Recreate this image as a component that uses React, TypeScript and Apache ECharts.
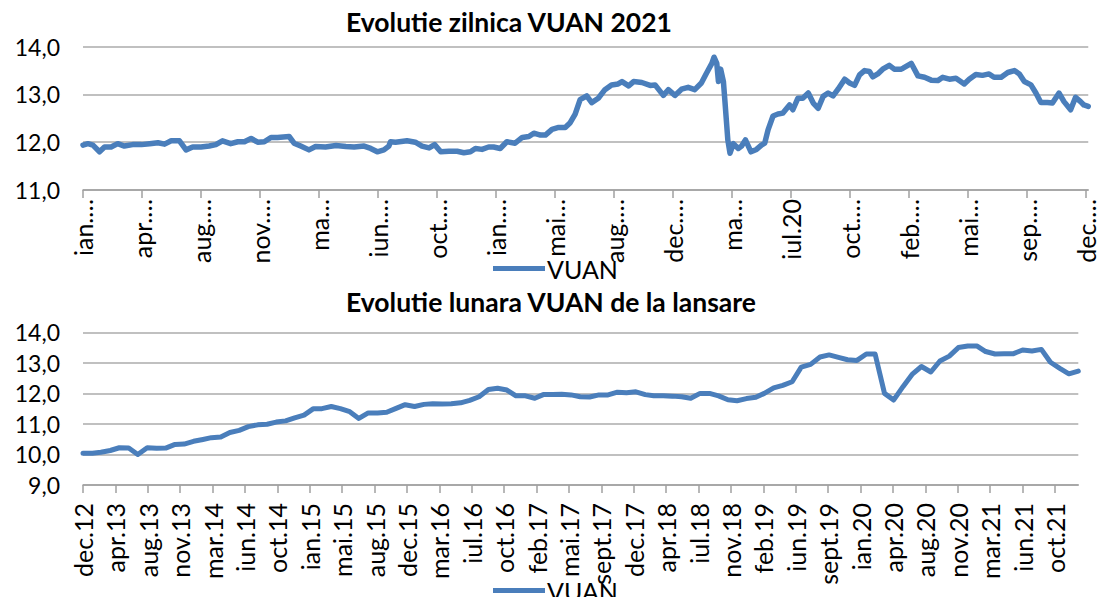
import React, { useEffect, useRef } from "react";
import * as echarts from "echarts";

// ---------- Daily chart (days since 2017-01-03) ----------
const dailyDays = [
  0, 9, 18, 30, 39, 51, 63, 75, 90, 106, 121, 136, 148, 160, 175, 187, 199, 214, 229, 241,
  253, 268, 281, 293, 305, 317, 329, 341, 353, 374, 383, 395, 410, 422, 440, 459, 477, 492, 510, 522,
  534, 546, 555, 558, 567, 588, 603, 615, 628, 638, 649, 664, 679, 691, 703, 712, 724, 736, 745, 757,
  769, 784, 797, 809, 818, 830, 839, 851, 863, 875, 884, 893, 902, 914, 923, 935, 947, 959, 971, 978,
  990, 999, 1014, 1029, 1038, 1053, 1062, 1074, 1086, 1098, 1110, 1122, 1131, 1141, 1145, 1150, 1153, 1157, 1162, 1165,
  1170, 1174, 1180, 1189, 1195, 1202, 1212, 1222, 1231, 1237, 1243, 1252, 1261, 1270, 1282, 1288, 1297, 1306, 1316, 1325,
  1334, 1343, 1352, 1361, 1370, 1382, 1391, 1400, 1409, 1418, 1427, 1433, 1442, 1451, 1463, 1472, 1484, 1488, 1503, 1515,
  1527, 1539, 1551, 1560, 1572, 1584, 1599, 1608, 1620, 1632, 1644, 1653, 1666, 1678, 1690, 1699, 1708, 1720, 1729, 1738,
  1750, 1759, 1771, 1780, 1792, 1801, 1810, 1816, 1824,
];
const dailyValues = [
  11.94, 11.97, 11.94, 11.8, 11.9, 11.9, 11.97, 11.92, 11.95, 11.95, 11.97, 11.99, 11.96, 12.03, 12.03, 11.84, 11.9, 11.9, 11.92, 11.95,
  12.03, 11.97, 12.01, 12.01, 12.08, 12.0, 12.01, 12.1, 12.1, 12.12, 11.98, 11.92, 11.84, 11.91, 11.9, 11.93, 11.91, 11.9, 11.92, 11.87,
  11.8, 11.84, 11.92, 12.01, 12.0, 12.03, 12.0, 11.92, 11.88, 11.95, 11.8, 11.81, 11.81, 11.78, 11.8, 11.87, 11.85, 11.9, 11.9, 11.87,
  12.01, 11.98, 12.1, 12.12, 12.19, 12.15, 12.15, 12.27, 12.31, 12.31, 12.41, 12.59, 12.89, 12.97, 12.83, 12.92, 13.1, 13.2, 13.22, 13.27,
  13.18, 13.27, 13.25, 13.19, 13.2, 12.98, 13.1, 12.98, 13.11, 13.15, 13.1, 13.24, 13.44, 13.65, 13.78, 13.65, 13.27, 13.53, 13.27, 12.82,
  12.05, 11.77, 11.97, 11.87, 11.92, 12.05, 11.8, 11.85, 11.94, 11.98, 12.26, 12.55, 12.59, 12.61, 12.78, 12.68, 12.92, 12.92, 13.03, 12.82,
  12.71, 12.96, 13.03, 12.97, 13.11, 13.32, 13.24, 13.19, 13.41, 13.5, 13.48, 13.37, 13.43, 13.53, 13.61, 13.53, 13.53, 13.55, 13.65, 13.39,
  13.36, 13.3, 13.29, 13.36, 13.32, 13.34, 13.22, 13.32, 13.42, 13.4, 13.43, 13.36, 13.36, 13.46, 13.5, 13.43, 13.27, 13.2, 13.03, 12.83,
  12.83, 12.82, 13.03, 12.85, 12.68, 12.94, 12.85, 12.78, 12.75,
];
const dailyTickLabels = [
  "ian.…", "apr.…", "aug.…", "nov.…", "ma…", "iun.…", "oct.…", "ian.…", "mai…",
  "aug.…", "dec.…", "ma…", "iul.20", "oct.…", "feb.…", "mai…", "sep.…", "dec.…",
];

// ---------- Monthly chart (month-end values, dec.12 .. dec.21) ----------
const monthlyValues = [
  10.04, 10.04, 10.07, 10.13, 10.22, 10.21, 10.0, 10.22, 10.2, 10.21, 10.33, 10.34,
  10.43, 10.49, 10.55, 10.57, 10.72, 10.79, 10.91, 10.97, 10.99, 11.06, 11.1, 11.2,
  11.29, 11.5, 11.5, 11.57, 11.5, 11.4, 11.18, 11.36, 11.36, 11.38, 11.51, 11.63,
  11.57, 11.64, 11.66, 11.65, 11.66, 11.69, 11.77, 11.89, 12.13, 12.17, 12.11, 11.92,
  11.92, 11.84, 11.96, 11.96, 11.97, 11.95, 11.89, 11.88, 11.95, 11.95, 12.04, 12.02,
  12.05, 11.96, 11.92, 11.92, 11.91, 11.89, 11.84, 12.0, 12.0, 11.92, 11.79, 11.76,
  11.83, 11.87, 12.0, 12.18, 12.26, 12.38, 12.86, 12.95, 13.19, 13.26, 13.18, 13.1,
  13.08, 13.29, 13.29, 12.0, 11.78, 12.22, 12.62, 12.88, 12.7, 13.06, 13.22, 13.5,
  13.55, 13.55, 13.37, 13.29, 13.3, 13.3, 13.42, 13.39, 13.44, 13.02, 12.82, 12.64,
  12.73,
];
const monthlyTickLabels = [
  "dec.12", "apr.13", "aug.13", "nov.13", "mar.14", "iun.14", "oct.14", "ian.15", "mai.15",
  "aug.15", "dec.15", "mar.16", "iul.16", "oct.16", "feb.17", "mai.17", "sept.17", "dec.17",
  "apr.18", "iul.18", "nov.18", "feb.19", "iun.19", "sept.19", "ian.20", "apr.20", "aug.20",
  "nov.20", "mar.21", "iun.21", "oct.21",
];

const TICK_DAYS = 107;
const DAY_MS = 86400000;
const monthlyOrigin = Date.UTC(2012, 11, 31);
const monthlyDays = monthlyValues.map(
  (_, i) => (Date.UTC(2012, 12 + i, 0) - monthlyOrigin) / DAY_MS
);

const FONT = "Lato";
const LINE_COLOR = "#4a7ebb";
const GRID_COLOR = "#ababab";

export default function App() {
  const ref = useRef<HTMLDivElement>(null);
  useEffect(() => {
    if (!ref.current) return;
    const chart = echarts.init(ref.current, null, { renderer: "svg" });
    const dailyTicks = dailyTickLabels.map((_, i) => i * TICK_DAYS);
    const monthlyTicks = monthlyTickLabels.map((_, i) => i * TICK_DAYS);
    const yFmt = (v: number) => v.toFixed(1).replace(".", ",");
    const yAxisCommon = {
      type: "value",
      interval: 1,
      axisLine: { show: false },
      axisTick: { show: false },
      splitLine: { lineStyle: { color: GRID_COLOR, width: 1.5 } },
      axisLabel: { formatter: yFmt, color: "#000", fontSize: 23, fontFamily: FONT, margin: 23 },
    };
    const xAxisCommon = {
      type: "value",
      axisLine: { lineStyle: { color: "#a0a0a0", width: 1.5 } },
      splitLine: { show: false },
    };
    const titleStyle = { fontFamily: FONT, fontWeight: "bold", fontSize: 26.5, color: "#000" };
    const legendCommon = {
      left: 493,
      padding: 0,
      icon: "rect",
      itemWidth: 52,
      itemHeight: 5,
      itemGap: 4,
      data: ["VUAN"],
      textStyle: { fontFamily: FONT, fontSize: 25, color: "#000", padding: [0, 0, 0, -3] },
    };
    chart.setOption({
      animation: false,
      title: [
        { text: "Evolutie zilnica VUAN 2021", left: 346, top: 8, padding: 0, textStyle: titleStyle },
        { text: "Evolutie lunara VUAN de la lansare", left: 346, top: 288, padding: 0, textStyle: titleStyle },
      ],
      legend: [
        { ...legendCommon, top: 256 },
        { ...legendCommon, top: 578 },
      ],
      grid: [
        { left: 83, right: 7.3, top: 46.7, height: 143.3 },
        { left: 83, right: 19.7, top: 332.3, height: 152.7 },
      ],
      xAxis: [
        {
          ...xAxisCommon,
          gridIndex: 0,
          min: 0,
          max: 1824,
          axisTick: { customValues: dailyTicks, length: 8, lineStyle: { color: "#a0a0a0", width: 1.5 } },
          axisLabel: {
            customValues: dailyTicks,
            rotate: 90,
            margin: 9,
            color: "#000",
            fontSize: 25,
            fontFamily: FONT,
            formatter: (v: number) => dailyTickLabels[Math.round(v / TICK_DAYS)] ?? "",
          },
        },
        {
          ...xAxisCommon,
          gridIndex: 1,
          min: 0,
          max: monthlyDays[monthlyDays.length - 1],
          axisTick: { customValues: monthlyTicks, length: 8, lineStyle: { color: "#a0a0a0", width: 1.5 } },
          axisLabel: {
            customValues: monthlyTicks,
            rotate: 90,
            margin: 18,
            color: "#000",
            fontSize: 25,
            fontFamily: FONT,
            formatter: (v: number) => monthlyTickLabels[Math.round(v / TICK_DAYS)] ?? "",
          },
        },
      ],
      yAxis: [
        { ...yAxisCommon, gridIndex: 0, min: 11, max: 14 },
        { ...yAxisCommon, gridIndex: 1, min: 9, max: 14 },
      ],
      series: [
        {
          name: "VUAN",
          type: "line",
          xAxisIndex: 0,
          yAxisIndex: 0,
          symbol: "none",
          lineStyle: { color: LINE_COLOR, width: 5.5, join: "round", cap: "round" },
          itemStyle: { color: LINE_COLOR },
          data: dailyDays.map((d, i) => [d, dailyValues[i]]),
        },
        {
          name: "VUAN",
          type: "line",
          xAxisIndex: 1,
          yAxisIndex: 1,
          symbol: "none",
          lineStyle: { color: LINE_COLOR, width: 5, join: "round", cap: "round" },
          itemStyle: { color: LINE_COLOR },
          data: monthlyDays.map((d, i) => [d, monthlyValues[i]]),
        },
      ],
    });
    return () => chart.dispose();
  }, []);
  return (
    <div
      ref={ref}
      style={{ position: "fixed", left: 0, top: 0, width: 1098, height: 597, background: "#fff" }}
    />
  );
}
